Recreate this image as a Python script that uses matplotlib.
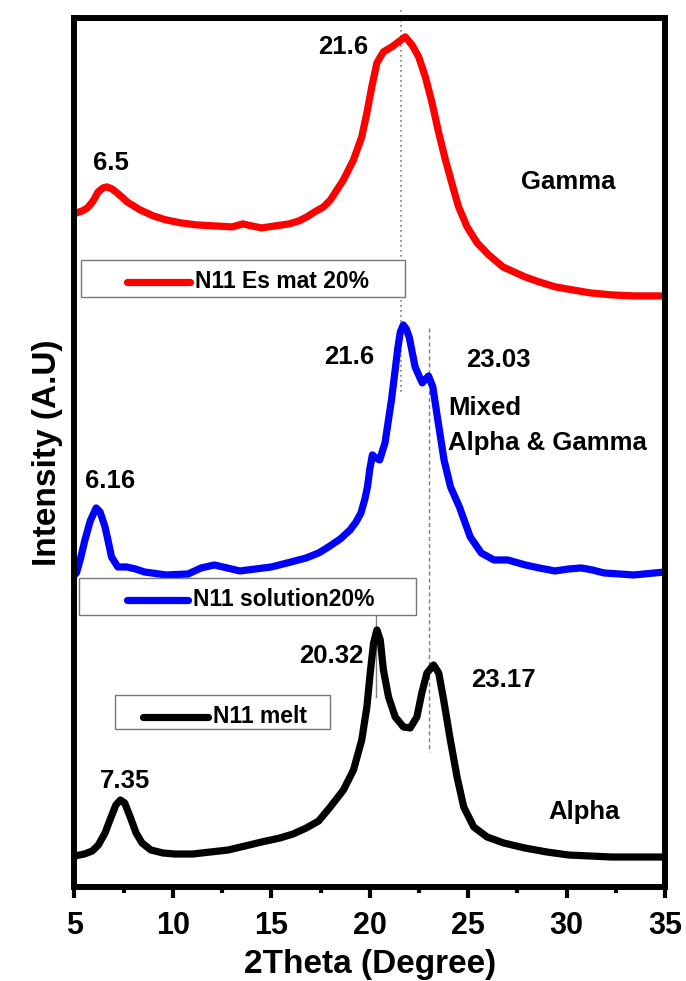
import numpy as np
import matplotlib.pyplot as plt
from matplotlib.patches import Rectangle

plt.rcParams['font.family'] = ['Liberation Sans', 'DejaVu Sans']
plt.rcParams['font.weight'] = 'bold'

# XRD scans, intensity already stacked (a.u.)
tt_gamma = [5.0, 5.1, 5.4, 5.66, 5.95, 6.2, 6.45, 6.65, 6.9, 7.1, 7.4, 7.67, 8.0, 8.33,
            9.0, 9.65, 10.4, 11.2, 12.1, 13.0, 13.55, 14.0, 14.5, 15.2, 15.9, 16.4,
            16.8, 17.2, 17.65, 18.0, 18.66, 19.17, 19.59, 19.85, 20.1, 20.36, 20.69,
            21.12, 21.46, 21.8, 22.14, 22.48, 22.82, 23.16, 23.5, 23.84, 24.26, 24.51,
            24.94, 25.45, 26.04, 26.76, 27.88, 28.6, 29.43, 30.3, 31.2, 32.3, 33.43, 35.0]
i_gamma = [673, 674, 676, 679, 686, 695, 699, 700, 698, 695, 690, 685, 681, 677,
           671, 667, 664, 662, 661, 660, 663, 661, 659, 661, 663, 666,
           670, 675, 680, 687, 707, 727, 750, 774, 800, 824, 835,
           840, 845, 850, 842, 830, 810, 784, 754, 727, 697, 680,
           660, 644, 632, 620, 610, 605, 600, 597, 594, 592, 591, 591]

tt_sol = [5.0, 5.1, 5.3, 5.53, 5.8, 6.1, 6.3, 6.55, 6.72, 6.88, 7.2, 7.65, 8.1, 8.55,
          9.66, 10.77, 11.43, 12.1, 12.75, 13.4, 14.2, 15.0, 16.0, 16.77, 17.4, 17.9,
          18.5, 19.0, 19.3, 19.55, 19.75, 19.88, 20.0, 20.13, 20.3, 20.5, 20.77, 21.1,
          21.43, 21.55, 21.7, 21.85, 22.0, 22.3, 22.66, 22.85, 22.98, 23.2, 23.43,
          23.77, 24.1, 24.55, 25.1, 25.66, 26.3, 27.0, 27.9, 28.6, 29.4, 30.1, 30.75,
          31.3, 31.9, 33.4, 35.0]
i_sol = [312, 314, 328, 347, 366, 379, 375, 360, 345, 330, 320, 320, 318, 315,
         312, 313, 319, 322, 319, 316, 318, 320, 325, 329, 334, 340,
         348, 357, 365, 374, 388, 400, 418, 432, 429, 427, 444, 487,
         540, 555, 562, 558, 550, 520, 504, 508, 511, 500, 470,
         427, 400, 380, 350, 334, 327, 327, 322, 319, 316, 318, 319,
         317, 314, 312, 315]

tt_melt = [5.0, 5.5, 5.9, 6.21, 6.55, 6.8, 7.1, 7.33, 7.55, 7.83, 8.13, 8.43, 8.88,
           9.5, 10.1, 11.0, 11.9, 12.8, 13.66, 14.5, 15.43, 16.1, 16.77, 17.4, 17.99,
           18.66, 19.17, 19.59, 19.85, 20.02, 20.19, 20.36, 20.53, 20.69, 20.95, 21.29,
           21.71, 22.05, 22.39, 22.64, 22.9, 23.24, 23.5, 23.75, 24.09, 24.43, 24.77,
           25.28, 25.96, 26.8, 27.88, 29.0, 30.1, 32.3, 35.0]
i_melt = [31, 33, 36, 42, 54, 67, 82, 87, 84, 70, 54, 44, 37,
          34, 33, 33, 35, 37, 41, 45, 49, 53, 59, 66, 80,
          97, 117, 147, 180, 214, 244, 257, 247, 217, 190, 170,
          160, 159, 170, 194, 214, 222, 214, 187, 147, 110, 80,
          60, 50, 44, 39, 35, 32, 30, 30]

labels = ['N11 Es mat 20%', 'N11 solution20%', 'N11 melt']
colors = ['#ff0000', '#0000ff', '#000000']

fig = plt.figure(figsize=(6.86, 9.81), dpi=100)
ax = fig.add_axes([0.1086, 0.0958, 0.861, 0.886])

style = dict(lw=5.2, solid_capstyle='round', solid_joinstyle='round')
ax.plot(tt_gamma, i_gamma, color=colors[0], **style)
ax.plot(tt_sol, i_sol, color=colors[1], **style)
ax.plot(tt_melt, i_melt, color=colors[2], **style)

ax.set_xlim(5, 35)
ax.set_ylim(0, 869)
ax.set_yticks([])
ax.set_xticks(np.arange(5, 36, 5))
ax.set_xticks(np.arange(7.5, 35, 5), minor=True)
ax.tick_params(axis='x', which='major', direction='out', length=8, width=3, pad=9, labelsize=22)
ax.tick_params(axis='x', which='minor', direction='out', length=4.5, width=3)
for s in ax.spines.values():
    s.set_linewidth(4.3)
for lab in ax.get_xticklabels():
    lab.set_fontweight('bold')

ax.set_xlabel('2Theta (Degree)', fontsize=24, fontweight='bold', labelpad=6)
ax.set_ylabel('Intensity (A.U)', fontsize=24, fontweight='bold', labelpad=8)

# guide lines through the main reflections
ax.plot([21.6, 21.6], [877, 492], color='gray', lw=1.2, ls=(0, (1, 2)), clip_on=False, zorder=1)
ax.plot([23.03, 23.03], [559, 135], color='gray', lw=1.0, ls=(0, (3, 2)), zorder=1)
ax.plot([20.32, 20.32], [272, 190], color='gray', lw=1.0, zorder=1)

# peak positions and phase names
ann = dict(fontsize=18.5, fontweight='bold', va='center')
ax.text(18.64, 840, '21.6', ha='center', **ann)
ax.text(6.85, 724, '6.5', ha='center', **ann)
ax.text(30.07, 705, 'Gamma', ha='center', **ann)
ax.text(18.95, 530, '21.6', ha='center', **ann)
ax.text(26.52, 527, '23.03', ha='center', **ann)
ax.text(23.98, 479, 'Mixed', ha='left', **ann)
ax.text(23.98, 444, 'Alpha & Gamma', ha='left', **ann)
ax.text(6.81, 406, '6.16', ha='center', **ann)
ax.text(18.03, 231, '20.32', ha='center', **ann)
ax.text(26.77, 207, '23.17', ha='center', **ann)
ax.text(7.57, 106, '7.35', ha='center', **ann)
ax.text(30.89, 75, 'Alpha', ha='center', **ann)


def legend_box(x0, x1, y0, y1, lx0, lx1, ly, color, label):
    ax.add_patch(Rectangle((x0, y0), x1 - x0, y1 - y0, facecolor='white',
                           edgecolor='#777777', lw=1.0, zorder=5))
    ax.plot([lx0, lx1], [ly, ly], color=color, lw=5.2, solid_capstyle='round', zorder=6)
    ax.text(lx1 + 0.25, ly, label, fontsize=16.5, fontweight='bold', va='center', ha='left', zorder=6)


legend_box(5.33, 21.79, 590, 627, 7.67, 10.87, 605, colors[0], labels[0])
legend_box(5.23, 22.35, 272, 309, 7.67, 10.77, 287, colors[1], labels[1])
legend_box(7.06, 17.98, 158, 192, 8.48, 11.78, 170, colors[2], labels[2])

fig.savefig('out.png', dpi=100)
